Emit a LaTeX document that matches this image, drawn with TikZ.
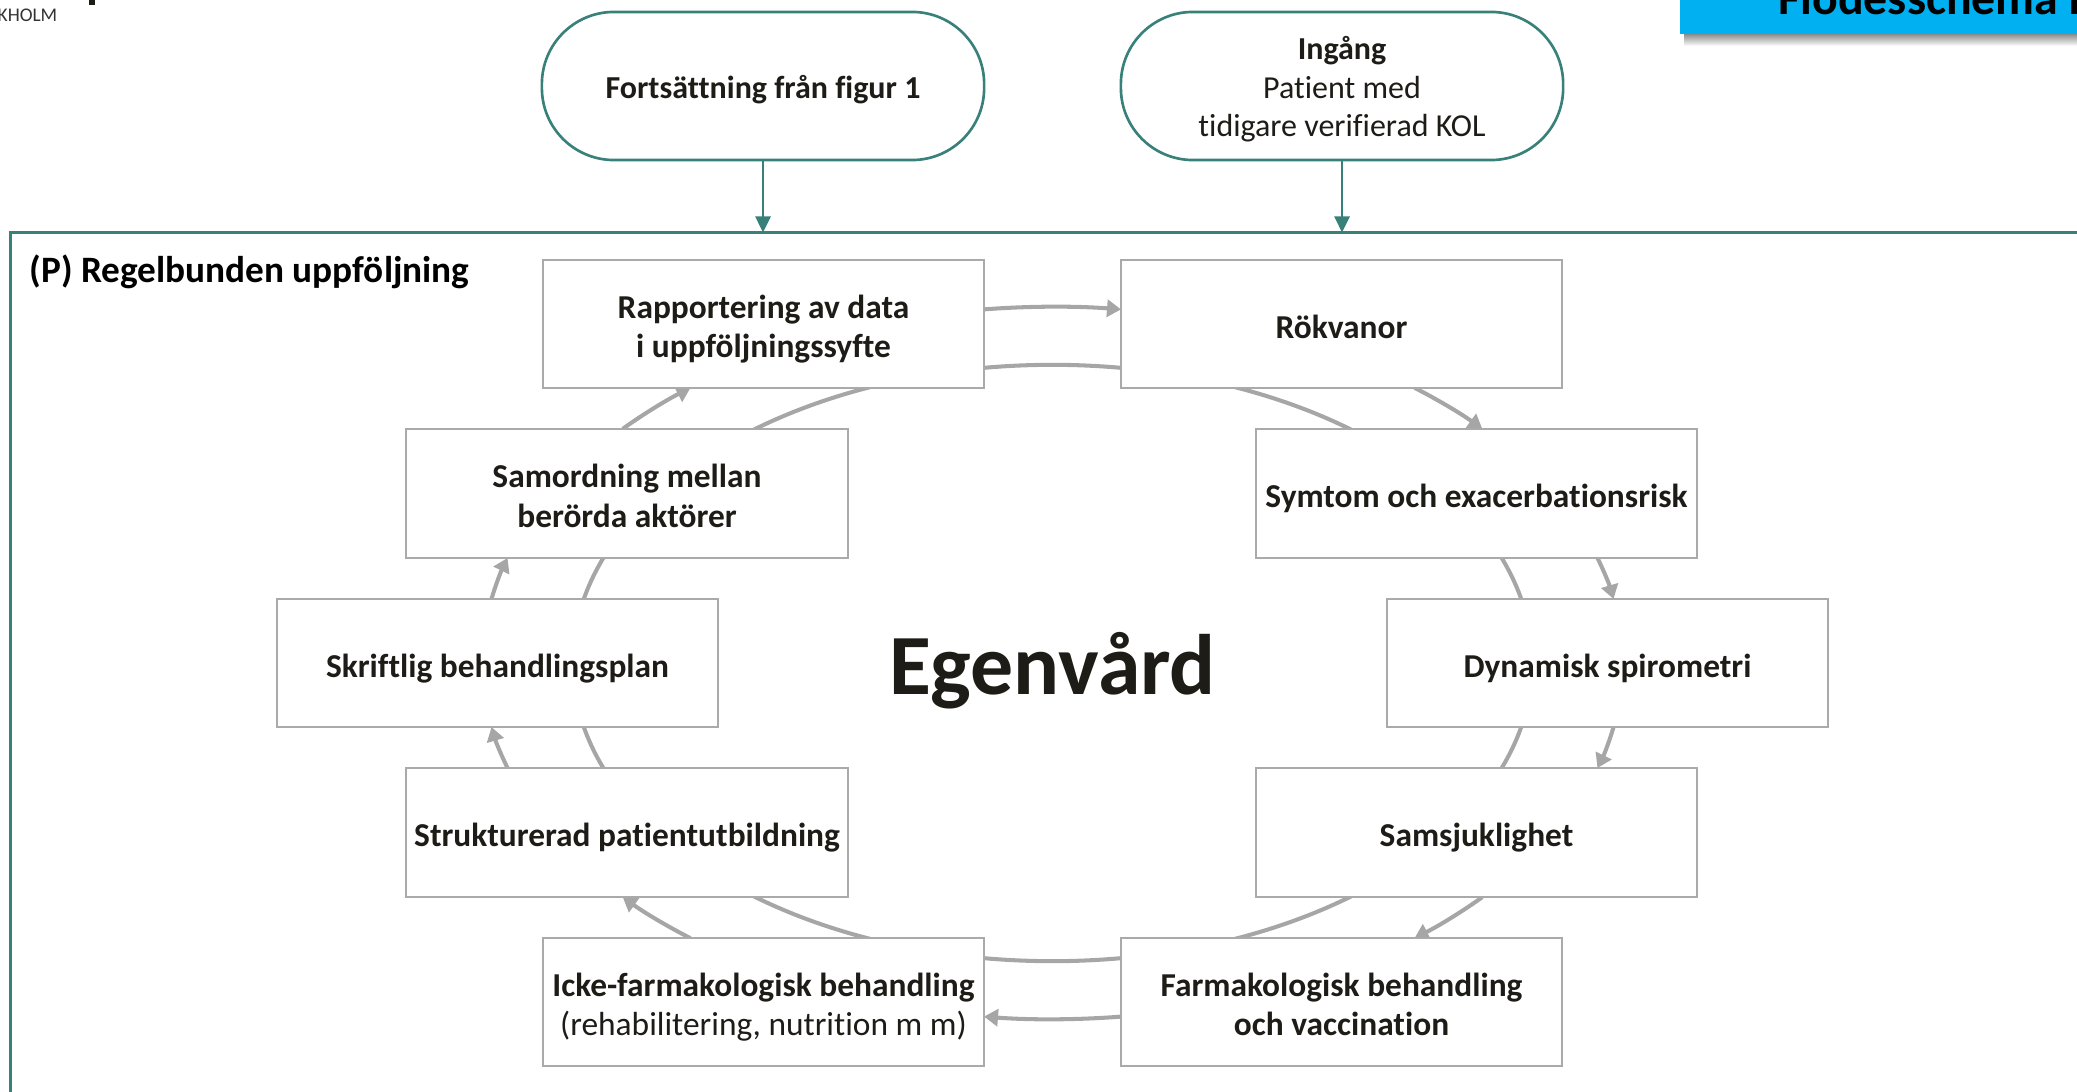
\documentclass[tikz,border=0pt]{standalone}
\usepackage{fontspec}
\setmainfont{Carlito}[Ligatures=NoCommon]
\usetikzlibrary{arrows.meta}

\definecolor{frameteal}{RGB}{56,128,122}
\definecolor{cycgray}{RGB}{166,166,166}
\definecolor{boxgray}{RGB}{170,170,170}
\definecolor{ink}{RGB}{30,28,22}
\definecolor{hdrblue}{RGB}{0,176,240}

\newcommand\boxfont{\fontsize{9.5}{11.3}\selectfont\bfseries}
\newcommand\ovalfont{\fontsize{9.1}{10.9}\selectfont}
% fixed line struts, so every line sits at the same height whatever its letters
\newcommand\bstrut{\rule[-1.65pt]{0pt}{11.3pt}}
\newcommand\ostrut{\rule[-2.0pt]{0pt}{10.9pt}}

% one clockwise segment of the outer cycle, from parametric angle #1 to #2
\newcommand\cycseg[2]{%
  \draw[cycarrow] ([shift={(#1:5.70cm and 3.56cm)}]cyc) arc[start angle=#1, end angle=#2, x radius=5.70cm, y radius=3.56cm];}

\begin{document}
\begin{tikzpicture}[x=0.01cm,y=0.01cm,
  stepbox/.style={draw=boxgray, line width=0.55pt, fill=white, minimum width=4.41cm,
    minimum height=1.28cm, inner sep=0pt, align=center, text=ink, font=\boxfont},
  terminal/.style={draw=frameteal, line width=0.75pt, fill=white, rounded corners=0.72cm,
    minimum width=4.42cm, minimum height=1.48cm, inner sep=0pt, align=center, text=ink, font=\ovalfont},
  cycline/.style={draw=cycgray, line width=1.15pt},
  cycarrow/.style={cycline, -{Triangle[length=0.14cm,width=0.17cm]}},
  feed/.style={draw=frameteal, line width=0.75pt, -{Triangle[length=0.16cm,width=0.15cm]}}]
\useasboundingbox (0,0) rectangle (2077,-1092);
\clip (0,0) rectangle (2077,-1092);

% logo fragment, top left
\node[anchor=base east, inner sep=0pt, font=\fontsize{5.5}{6}\selectfont, text=black!80] (logo) at (58,-22) {STOCKHOLM};
\fill[ink] (89,0) rectangle (95,-5);

% header tab, top right
\shade[top color=black!45, bottom color=white] (1684,-34) rectangle (2077,-46);
\fill[hdrblue] (1680,10) rectangle (2100,-34);
\node[anchor=base west, inner sep=0pt, font=\fontsize{13.6}{16}\selectfont\bfseries, text=black] (hdr) at (1778,-15) {Flödesschema KOL};

% follow-up frame
\coordinate (ftop) at (0,-232.5);
\draw[frameteal, line width=1pt] (2120,-232.5) -| (10.5,-1130);
\node[anchor=base west, inner sep=0pt, font=\fontsize{10.6}{12}\selectfont\bfseries, text=black] (title) at (29,-283) {(P) Regelbunden uppföljning};

% entry terminals
\node[terminal] (fort) at (763,-86) {\ostrut\textbf{Fortsättning från figur 1}};
\node[terminal] (entry) at (1342,-86) {\ostrut\textbf{Ingång}\\\ostrut Patient med\\\ostrut tidigare verifierad KOL};
\draw[feed] (fort.south) -- (fort.south |- ftop);
\draw[feed] (entry.south) -- (entry.south |- ftop);

% cycle
\coordinate (cyc) at (1052.5,-663);
\draw[cycline] (cyc) ellipse [x radius=4.795cm, y radius=2.98cm];
\cycseg{96.9}{83.1}
\cycseg{50.6}{41.1}
\cycseg{17.15}{10.36}
\cycseg{-10.36}{-17.15}
\cycseg{-41.1}{-50.6}
\cycseg{-83.1}{-96.9}
\cycseg{-129.4}{-138.9}
\cycseg{-162.85}{-169.64}
\cycseg{169.64}{162.85}
\cycseg{138.9}{129.4}

% steps of the follow-up
\node[stepbox] (rapp) at (763.5,-324) {\bstrut Rapportering av data\\\bstrut i uppföljningssyfte};
\node[stepbox] (rok)  at (1341.5,-324) {\bstrut Rökvanor};
\node[stepbox] (samo) at (627,-493.5) {\bstrut Samordning mellan\\\bstrut berörda aktörer};
\node[stepbox] (sym)  at (1476.5,-493.5) {\bstrut Symtom och exacerbationsrisk};
\node[stepbox] (skr)  at (497.5,-663) {\bstrut Skriftlig behandlingsplan};
\node[stepbox] (dyn)  at (1607.5,-663) {\bstrut Dynamisk spirometri};
\node[stepbox] (str)  at (627,-832.5) {\bstrut Strukturerad patientutbildning};
\node[stepbox] (sams) at (1476.5,-832.5) {\bstrut Samsjuklighet};
\node[stepbox] (icke) at (763.5,-1002) {\bstrut Icke-farmakologisk behandling\\\bstrut\mdseries(rehabilitering, nutrition m m)};
\node[stepbox] (farm) at (1341.5,-1002) {\bstrut Farmakologisk behandling\\\bstrut och vaccination};

\node[anchor=base, inner sep=0pt, font=\fontsize{24.4}{28}\selectfont\bfseries, text=ink] (ego) at (1052.5,-695) {Egenvård};
\end{tikzpicture}
\end{document}
